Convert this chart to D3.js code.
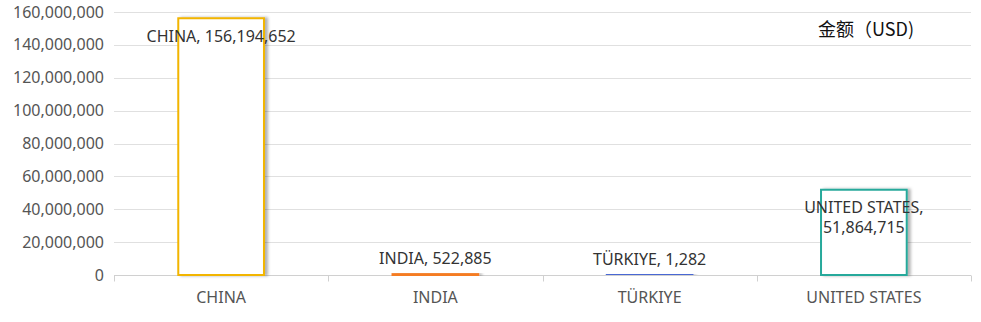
<!DOCTYPE html>
<html><head><meta charset="utf-8">
<script src="https://cdn.jsdelivr.net/npm/d3@7/dist/d3.min.js"></script>
<style>body{margin:0;background:#fff;} svg{display:block;font-family:"Noto Sans","Noto Sans CJK SC",sans-serif;}</style>
</head><body><svg id="c" width="981" height="322"></svg>
<script>
const categories = ["CHINA","INDIA","TÜRKIYE","UNITED STATES"];
const values = [156194652, 522885, 1282, 51864715];
const colors = ["#f2b500","#f57b22","#4a67d4","#27a99b"];
const yTicks = [0,20000000,40000000,60000000,80000000,100000000,120000000,140000000,160000000];
const legendTitle = "金额（USD)";

const svg = d3.select("#c");
const m = {l:114, r:971, t:12, b:275};
const x = d3.scaleBand().domain(categories).range([m.l, m.r]).paddingInner(0).paddingOuter(0);
const y = d3.scaleLinear().domain([0,160000000]).range([m.b, m.t]);
const fmt = d3.format(",");

const defs = svg.append("defs");
const f = defs.append("filter").attr("id","sh").attr("x","-20%").attr("y","-20%").attr("width","150%").attr("height","150%");
f.append("feDropShadow").attr("dx",3).attr("dy",0).attr("stdDeviation",1.5).attr("flood-color","#000").attr("flood-opacity",0.3);

// grid
svg.append("g").selectAll("line").data(yTicks.filter(d=>d>0)).join("line")
  .attr("x1",m.l).attr("x2",m.r).attr("y1",d=>Math.round(y(d))+0.5).attr("y2",d=>Math.round(y(d))+0.5)
  .attr("stroke","#e0e0e0").attr("stroke-width",1);

// y labels
svg.append("g").selectAll("text").data(yTicks).join("text")
  .attr("x",104).attr("y",d=>y(d)).attr("dy","0.35em").attr("text-anchor","end")
  .attr("fill","#555").attr("font-size",16).text(d=>fmt(d));

// x axis
const xa = svg.append("g").attr("transform",`translate(0,${m.b+0.5})`);
xa.append("line").attr("x1",m.l).attr("x2",m.r).attr("stroke","#d0d0d0");
const bounds = categories.map(c=>x(c)).concat([m.r]);
xa.selectAll("line.t").data(bounds).join("line").attr("class","t")
  .attr("x1",d=>Math.round(d)+0.5).attr("x2",d=>Math.round(d)+0.5).attr("y1",0).attr("y2",6).attr("stroke","#d0d0d0");
xa.selectAll("text").data(categories).join("text")
  .attr("x",d=>x(d)+x.bandwidth()/2).attr("y",22).attr("dy","0.35em").attr("text-anchor","middle")
  .attr("fill","#555").attr("font-size",16).text(d=>d);

// bars
const bw = x.bandwidth()*0.4;
const data = categories.map((c,i)=>({c, v:values[i], col:colors[i]}));
svg.append("g").selectAll("rect").data(data).join("rect")
  .attr("x",d=>x(d.c)+x.bandwidth()/2-bw/2).attr("width",bw)
  .attr("y",d=>y(d.v)).attr("height",d=>Math.max(0,y(0)-y(d.v)))
  .attr("fill","#fff").attr("stroke",d=>d.col).attr("stroke-width",2)
  .attr("filter","url(#sh)");

// labels
const lg = svg.append("g");
data.forEach(d=>{
  const cx = x(d.c)+x.bandwidth()/2;
  const h = y(0)-y(d.v);
  const label = d.c + ", " + fmt(d.v);
  const t = lg.append("text").attr("text-anchor","middle").attr("fill","#333").attr("font-size",16);
  if (h < 30) {
    t.attr("x",cx).attr("y",y(d.v)-16).attr("dy","0.35em").text(label);
  } else if (label.length > 20) {
    t.append("tspan").attr("x",cx).attr("y",y(d.v)+18).attr("dy","0.35em").text(d.c + ",");
    t.append("tspan").attr("x",cx).attr("y",y(d.v)+38).attr("dy","0.35em").text(fmt(d.v));
  } else {
    t.attr("x",cx).attr("y",y(d.v)+18).attr("dy","0.35em").text(label);
  }
});

// legend title
svg.append("text").attr("x",866).attr("y",30).attr("dy","0.35em").attr("text-anchor","middle")
  .attr("fill","#111").attr("font-size",18).attr("font-family","'Noto Sans CJK SC',sans-serif").text(legendTitle);
</script></body></html>
